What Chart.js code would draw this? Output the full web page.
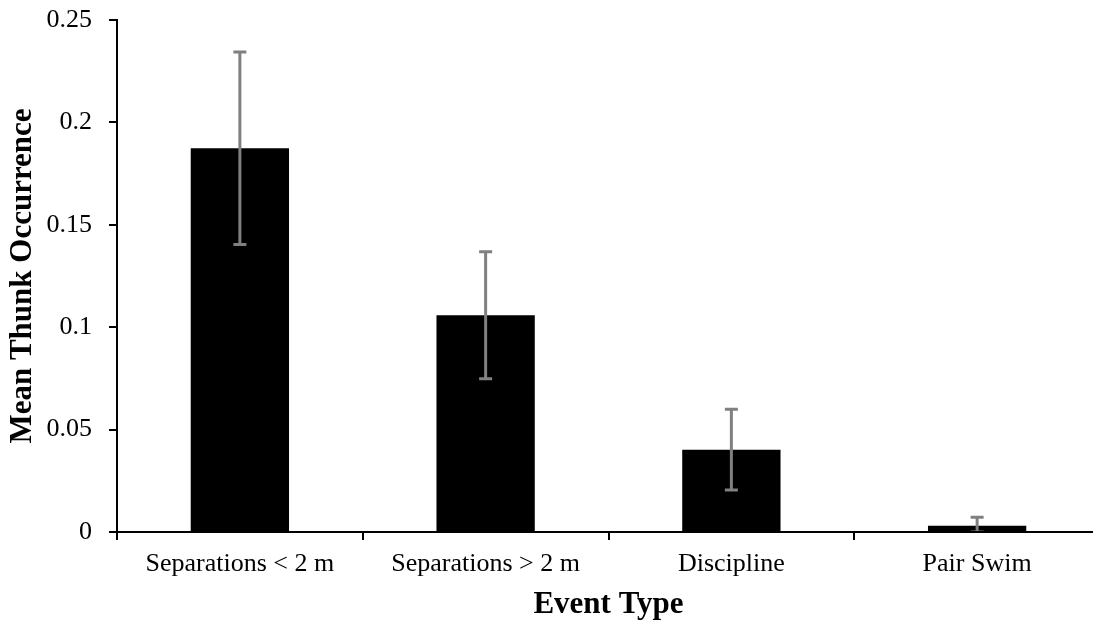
<!DOCTYPE html>
<html lang="en">
<head>
    <title>Mean Thunk Occurrence</title>
    <script src="https://cdn.jsdelivr.net/npm/chart.js"></script>
    <style>
        html, body { margin: 0; padding: 0; overflow: hidden; background: #fff; }
        #myChart { display: block; }
    </style>
</head>
<body>
    <canvas id="myChart" width="1100" height="625" style="width:1100px;height:625px"></canvas>

    <script>
        const categories = ['Separations < 2 m', 'Separations > 2 m', 'Discipline', 'Pair Swim'];
        const meanThunks = [0.1874, 0.1058, 0.0402, 0.0031];
        const errorSizes = [0.047, 0.031, 0.0197, 0.0041];
        const yTickLabels = ['0', '0.05', '0.1', '0.15', '0.2', '0.25'];

        const serif = 'Liberation Serif, Times New Roman, serif';

        // grey error bars with flat caps
        const errorBars = {
            id: 'errorBars',
            afterDatasetsDraw(chart) {
                const { ctx, chartArea, scales: { x, y } } = chart;
                ctx.save();
                ctx.beginPath();
                ctx.rect(chartArea.left, chartArea.top - 5, chartArea.right - chartArea.left, chartArea.bottom - chartArea.top + 4);
                ctx.clip();
                ctx.strokeStyle = '#808080';
                ctx.lineWidth = 3;
                meanThunks.forEach((m, i) => {
                    const cx = x.getPixelForValue(i);
                    const top = y.getPixelForValue(m + errorSizes[i]);
                    const bot = y.getPixelForValue(Math.max(0, m - errorSizes[i]));
                    ctx.beginPath();
                    ctx.moveTo(cx, top);
                    ctx.lineTo(cx, bot);
                    ctx.moveTo(cx - 6.5, top);
                    ctx.lineTo(cx + 6.5, top);
                    ctx.moveTo(cx - 6.5, bot);
                    ctx.lineTo(cx + 6.5, bot);
                    ctx.stroke();
                });
                ctx.restore();
            }
        };

        const ctx = document.getElementById('myChart').getContext('2d');
        new Chart(ctx, {
            type: 'bar',
            data: {
                labels: categories,
                datasets: [{
                    label: 'Mean Thunk Occurrence',
                    data: meanThunks,
                    backgroundColor: '#000000',
                    borderWidth: 0,
                    barPercentage: 0.4,
                    categoryPercentage: 1.0
                }]
            },
            options: {
                responsive: false,
                animation: false,
                layout: { padding: { top: 20, right: 0, left: 0, bottom: 0 } },
                plugins: {
                    legend: { display: false },
                    tooltip: { enabled: false }
                },
                scales: {
                    x: {
                        grid: {
                            offset: true,
                            drawOnChartArea: false,
                            drawTicks: true,
                            tickLength: 8,
                            color: '#000',
                            lineWidth: 2
                        },
                        border: { color: '#000', width: 2 },
                        ticks: {
                            color: '#000',
                            padding: 9,
                            maxRotation: 0,
                            autoSkip: false,
                            font: { family: serif, size: 26 }
                        },
                        title: {
                            display: true,
                            text: 'Event Type',
                            color: '#000',
                            padding: { top: 0, bottom: 5 },
                            font: { family: serif, size: 31, weight: 'bold', lineHeight: 1 }
                        },
                        afterFit(scale) { scale.height = 93; }
                    },
                    y: {
                        min: 0,
                        max: 0.25,
                        grid: {
                            drawOnChartArea: false,
                            drawTicks: true,
                            tickLength: 8,
                            color: '#000',
                            lineWidth: 2
                        },
                        border: { color: '#000', width: 2 },
                        ticks: {
                            stepSize: 0.05,
                            color: '#000',
                            padding: 17,
                            font: { family: serif, size: 26 },
                            callback: (v, i) => yTickLabels[i]
                        },
                        title: {
                            display: true,
                            text: 'Mean Thunk Occurrence',
                            color: '#000',
                            padding: { top: 7, bottom: 0 },
                            font: { family: serif, size: 31, weight: 'bold', lineHeight: 1 }
                        },
                        afterFit(scale) {
                            scale.width = 117;
                            scale.paddingTop = 0;
                            scale.paddingBottom = 0;
                        }
                    }
                }
            },
            plugins: [errorBars]
        });
    </script>
</body>
</html>
